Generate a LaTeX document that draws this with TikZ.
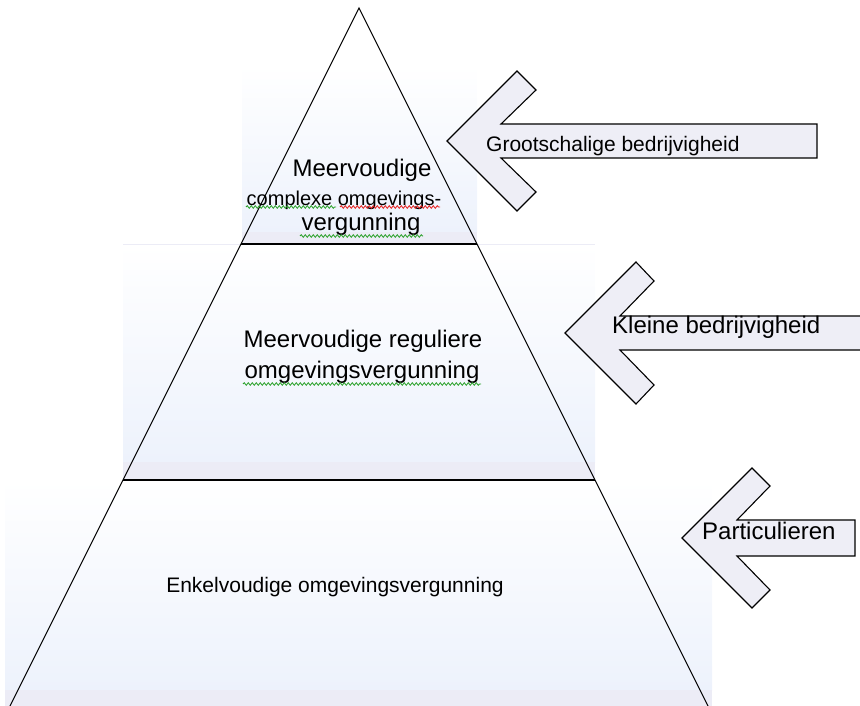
\documentclass[tikz,border=0pt]{standalone}
\usepackage{fontspec}
\setmainfont{Liberation Sans}
\usetikzlibrary{decorations.pathmorphing}
\definecolor{bandblue}{RGB}{237,242,252}
\definecolor{bandlav}{RGB}{236,236,246}
\definecolor{arrowfill}{RGB}{238,238,246}
\definecolor{spellgreen}{RGB}{40,160,40}
\definecolor{spellred}{RGB}{230,30,30}
\tikzset{
  band/.style={draw=none, top color=white, bottom color=bandblue},
  bandstrip/.style={draw=none, fill=bandlav},
  side/.style={draw=black, line width=1.1pt},
  level/.style={draw=black, line width=1.8pt},
  blockarrow/.style={draw=black, line width=1.1pt, fill=arrowfill, line join=miter},
  lbl/.style={font=\fontsize{24}{28}\selectfont, inner sep=0pt, text=black},
  lblsmall/.style={font=\fontsize{20}{24}\selectfont, inner sep=0pt, text=black},
  squig/.style={decorate, decoration={snake, amplitude=1.3pt, segment length=4pt}, line width=0.8pt},
}
\begin{document}
\begin{tikzpicture}[x=1pt,y=-1pt]
\useasboundingbox (0,0) rectangle (860,706);
\clip (0,0) rectangle (860,706);
% background gradient bands
\path[band] (242,65) rectangle (477,232);
\path[bandstrip] (242,232) rectangle (477,244);
\path[band] (123,244) rectangle (595,462);
\path[bandstrip] (123,462) rectangle (595,480);
\path[band] (5,480) rectangle (712,690);
\path[bandstrip] (5,690) rectangle (712,706);
\draw[draw=bandlav, line width=1pt] (123,244) -- (595,244);
% pyramid
\coordinate (apex) at (359,8);
\coordinate (bl) at (9,708);
\coordinate (br) at (709,708);
\coordinate (l1) at (241,244);
\coordinate (r1) at (477,244);
\coordinate (l2) at (123,480);
\coordinate (r2) at (595,480);
\draw[side] (bl) -- (apex) -- (br);
\draw[level] (l1) -- (r1);
\draw[level] (l2) -- (r2);
% block arrows
\draw[blockarrow] (447,141) -- (517,71) -- (536,90) -- (501,124) -- (817,124) -- (817,158) -- (501,158) -- (536,192) -- (517,211) -- cycle;
\draw[blockarrow] (565,333) -- (636,262) -- (654,281) -- (620,316) -- (870,316) -- (870,350) -- (620,350) -- (654,385) -- (636,404) -- cycle;
\draw[blockarrow] (682,538) -- (752,468) -- (770,486) -- (737,520) -- (855,520) -- (855,556) -- (737,556) -- (770,590) -- (752,608) -- cycle;
% labels
\node[lbl] (t1a) at (362,170) {Meervoudige};
\node[lblsmall] (t1b) at (344,200) {complexe omgevings-};
\node[lbl] (t1c) at (361,224) {vergunning};
\node[lbl] (t2a) at (363,341) {Meervoudige reguliere};
\node[lbl] (t2b) at (362,372) {omgevingsvergunning};
\node[font=\fontsize{21}{24}\selectfont, inner sep=0pt] (t3) at (335,587) {Enkelvoudige omgevingsvergunning};
\node[font=\fontsize{21}{24}\selectfont, inner sep=0pt, anchor=west] (a1) at (486,146) {Grootschalige bedrijvigheid};
\node[lbl, anchor=west] (a2) at (612,327) {Kleine bedrijvigheid};
\node[lbl, anchor=west] (a3) at (702,531) {Particulieren};
% spelling squiggles
\draw[squig, spellgreen] (246,207) -- (336,207);
\draw[squig, spellred] (340,207) -- (440,207);
\draw[squig, spellgreen] (300,236) -- (423,236);
\draw[squig, spellgreen] (243,384) -- (481,384);
\end{tikzpicture}
\end{document}
